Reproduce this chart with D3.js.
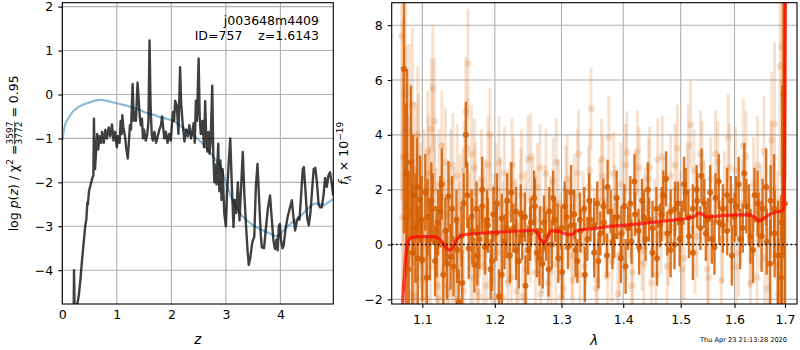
<!DOCTYPE html>
<html><head><meta charset="utf-8">
<script src="https://cdn.jsdelivr.net/npm/d3@7"></script>
<style>body{margin:0;background:#fff}svg text{font-family:"DejaVu Sans",sans-serif}</style>
</head><body><svg id="c" width="800" height="350"></svg>
<script>
// ---------- DATA ----------
const zTicks = [0, 1, 2, 3, 4];
const logpTicks = [-4, -3, -2, -1, 0, 1, 2];
const lamTicks = [1.1, 1.2, 1.3, 1.4, 1.5, 1.6, 1.7];
const fluxTicks = [-2, 0, 2, 4, 6, 8];

// log p(z) (dark curve) [z, log p]
const pzCurve = [
[0.210,-4.8],[0.215,-4.0],[0.225,-4.8],[0.27,-4.8],[0.30,-4.6],[0.33,-4.25],[0.36,-3.8],[0.39,-3.4],[0.42,-3.0],[0.44,-2.85],
[0.46,-2.45],[0.47,-2.5],[0.49,-2.2],[0.52,-2.05],[0.55,-1.9],[0.57,-1.85],[0.58,-0.55],[0.60,-1.7],[0.62,-1.3],[0.64,-0.9],
[0.66,-1.25],[0.68,-0.95],[0.71,-1.1],[0.73,-0.85],[0.76,-1.1],[0.79,-0.8],[0.82,-1.0],[0.85,-0.75],[0.88,-0.95],[0.91,-0.68],
[0.94,-1.05],[0.97,-0.85],[1.00,-1.2],[1.02,-0.95],[1.05,-1.1],[1.07,-0.6],[1.09,-0.9],[1.10,-0.47],[1.12,-0.75],[1.15,-0.95],
[1.17,-1.2],[1.20,-1.46],[1.22,-1.1],[1.24,-0.7],[1.26,-0.8],[1.29,0.24],[1.31,-0.6],[1.33,-0.4],[1.35,-0.6],[1.38,0.27],
[1.40,-0.1],[1.42,-0.5],[1.44,-0.7],[1.46,-0.55],[1.48,-1.0],[1.50,-0.8],[1.53,-1.05],[1.56,-0.9],[1.58,-0.6],[1.60,1.23],
[1.62,-0.3],[1.64,-0.9],[1.66,-1.05],[1.69,-0.85],[1.72,-1.1],[1.75,-0.95],[1.78,-0.8],[1.81,-0.7],[1.83,-0.5],[1.85,-0.75],
[1.87,-1.0],[1.90,-0.85],[1.93,-1.1],[1.96,-0.9],[1.99,-1.05],[2.01,-0.7],[2.03,-0.4],[2.05,-0.6],[2.07,-0.14],[2.10,-0.25],
[2.13,-0.9],[2.16,0.62],[2.18,-0.2],[2.21,-0.7],[2.24,-1.07],[2.27,-0.8],[2.30,-0.95],[2.33,-0.7],[2.36,-1.0],[2.39,-0.8],
[2.41,-0.65],[2.43,-1.1],[2.45,-0.14],[2.47,-0.6],[2.50,0.82],[2.52,-0.5],[2.54,-0.9],[2.57,-0.6],[2.60,-1.2],[2.62,-0.15],
[2.64,-1.0],[2.66,-1.3],[2.68,-0.85],[2.70,-1.35],[2.72,-1.1],[2.75,0.2],[2.77,-1.4],[2.79,-2.0],[2.81,-1.6],[2.83,-2.05],
[2.86,-1.12],[2.88,-2.2],[2.90,-1.5],[2.92,-2.4],[2.94,-1.7],[2.97,-2.7],[3.00,-3.0],[3.02,-2.3],[3.05,-1.6],[3.08,-1.0],
[3.11,-2.1],[3.14,-3.02],[3.16,-2.4],[3.19,-2.7],[3.22,-2.0],[3.25,-2.87],[3.28,-2.1],[3.31,-1.31],[3.34,-2.3],[3.37,-3.0],
[3.40,-3.6],[3.42,-3.88],[3.45,-3.7],[3.48,-3.4],[3.50,-3.3],[3.52,-3.25],[3.55,-2.1],[3.58,-1.58],[3.61,-2.4],[3.64,-3.2],
[3.66,-3.48],[3.70,-3.5],[3.73,-3.1],[3.77,-2.6],[3.81,-2.3],[3.84,-2.8],[3.87,-3.3],[3.90,-3.52],[3.93,-3.3],[3.95,-3.55],
[3.97,-3.0],[3.99,-2.95],[4.01,-3.3],[4.04,-3.5],[4.06,-3.44],[4.09,-3.1],[4.13,-2.8],[4.17,-2.6],[4.21,-2.41],[4.24,-2.8],
[4.27,-3.1],[4.30,-2.9],[4.33,-2.8],[4.35,-2.85],[4.38,-2.3],[4.41,-1.7],[4.43,-1.65],[4.46,-2.2],[4.49,-2.8],[4.52,-2.98],
[4.55,-2.7],[4.58,-2.2],[4.61,-1.7],[4.64,-1.67],[4.67,-2.0],[4.70,-2.5],[4.73,-2.57],[4.76,-2.57],[4.79,-2.3],[4.82,-1.9],
[4.85,-2.1],[4.88,-1.85],[4.91,-1.77],[4.94,-2.0],[4.96,-2.22],[4.97,-2.3]
];

// smooth prior curve [z, log p]
const priorCurve = [
[0,-1.05],[0.03,-0.8],[0.06,-0.65],[0.12,-0.52],[0.2,-0.38],[0.3,-0.28],[0.4,-0.22],[0.5,-0.18],[0.6,-0.14],[0.7,-0.12],
[0.8,-0.14],[0.9,-0.17],[1.0,-0.2],[1.1,-0.23],[1.2,-0.26],[1.3,-0.3],[1.4,-0.34],[1.5,-0.4],[1.6,-0.44],[1.7,-0.47],
[1.8,-0.52],[1.9,-0.55],[2.0,-0.58],[2.1,-0.65],[2.2,-0.75],[2.3,-0.85],[2.4,-0.93],[2.5,-1.03],[2.6,-1.15],[2.7,-1.3],
[2.8,-1.47],[2.9,-1.62],[3.0,-2.0],[3.1,-2.35],[3.2,-2.6],[3.3,-2.77],[3.4,-2.88],[3.5,-2.98],[3.6,-3.05],[3.7,-3.1],
[3.8,-3.16],[3.9,-3.22],[3.95,-3.23],[4.0,-3.17],[4.1,-3.04],[4.2,-2.93],[4.3,-2.84],[4.4,-2.73],[4.5,-2.6],[4.6,-2.5],
[4.65,-2.48],[4.75,-2.5],[4.8,-2.52],[4.85,-2.48],[4.97,-2.38]
];

// best-fit model [lambda, flux]
const modelCurve = [
[1.074,-2.3],[1.078,-0.5],[1.082,0.15],[1.086,0.25],[1.095,0.28],[1.105,0.29],[1.115,0.29],[1.122,0.22],[1.128,0.05],[1.134,-0.18],
[1.138,-0.21],[1.142,-0.05],[1.147,0.2],[1.153,0.33],[1.16,0.37],[1.18,0.41],[1.20,0.44],[1.22,0.47],[1.24,0.5],[1.255,0.52],
[1.262,0.46],[1.268,0.18],[1.272,0.08],[1.277,0.15],[1.283,0.5],[1.29,0.5],[1.30,0.44],[1.31,0.37],[1.316,0.36],[1.322,0.48],
[1.33,0.53],[1.35,0.58],[1.37,0.64],[1.40,0.7],[1.43,0.76],[1.46,0.83],[1.49,0.9],[1.51,0.95],[1.525,1.02],[1.534,1.15],
[1.54,1.1],[1.548,1.0],[1.56,1.02],[1.58,1.06],[1.60,1.08],[1.627,1.08],[1.64,0.98],[1.647,0.86],[1.655,0.92],[1.665,1.05],
[1.68,1.18],[1.693,1.22],[1.697,1.3],[1.699,3.0],[1.701,9.5]
];

// spectrum, high-weight points, first set [lambda, flux, err]
const specDarkA = [
[1.076,6.4,6.0],[1.079,0.95,4.2],[1.082,-0.9,3.5],[1.085,3.0,2.8],[1.088,1.8,2.2],[1.091,0.6,2.0],[1.094,-0.5,1.9],[1.097,1.65,1.6],
[1.100,-0.55,1.5],[1.104,1.9,1.4],[1.107,1.0,1.4],[1.110,0.2,1.5],[1.114,1.3,1.3],[1.117,-0.6,1.3],[1.121,0.8,1.2],[1.124,1.2,1.3],
[1.128,-1.1,1.2],[1.131,0.5,1.2],[1.135,1.75,1.3],[1.138,-0.45,1.2],[1.142,-0.8,1.1],[1.146,0.9,1.1],[1.149,-2.1,1.2],[1.153,0.3,1.1],
[1.156,1.5,1.1],[1.159,4.0,1.2],[1.163,-0.15,1.1],[1.167,1.0,1.0],[1.171,-0.75,1.0],[1.174,1.3,1.0],[1.178,0.2,1.1],[1.182,1.4,1.0],
[1.186,-0.1,1.0],[1.190,0.7,1.0],[1.194,-0.9,1.1],[1.198,1.1,1.0],[1.202,0.4,1.0],[1.206,-1.9,1.0],[1.210,0.95,0.9],[1.214,0.1,1.0],
[1.218,1.6,1.0],[1.222,-0.4,1.0],[1.227,0.6,0.9],[1.231,1.2,0.9],[1.235,-0.6,1.0],[1.240,0.35,0.9],[1.244,1.0,0.9],[1.249,-0.2,0.9],
[1.253,0.8,0.9],[1.258,1.7,1.0],[1.262,-0.3,0.9],[1.267,0.5,0.9],[1.271,-0.7,0.9],[1.276,0.3,0.9],[1.281,1.2,0.9],[1.285,0.0,0.9],
[1.290,0.9,0.8],[1.295,-0.5,0.9],[1.300,0.6,0.8],[1.305,1.4,0.9],[1.310,-0.1,0.8],[1.315,0.7,0.8],[1.320,1.1,0.9],[1.325,-0.6,0.8],
[1.330,0.5,0.8],[1.336,1.3,0.8],[1.341,0.2,0.8],[1.346,0.9,0.8],[1.352,-0.3,0.9],[1.357,1.5,0.8],[1.362,0.4,0.8],[1.368,0.8,0.8],
[1.373,-0.4,0.8],[1.379,1.2,0.8],[1.385,0.3,0.8],[1.390,1.0,0.8],[1.396,-0.5,0.9],[1.402,1.4,0.8],[1.408,0.6,0.8],[1.414,0.1,0.8],
[1.420,1.1,0.8],[1.426,0.5,0.8],[1.432,1.6,0.8],[1.438,0.2,0.8],[1.444,0.9,0.8],[1.450,-0.3,0.9],[1.457,1.3,0.8],[1.463,0.7,0.8],
[1.469,1.8,0.9],[1.476,0.4,0.8],[1.482,1.2,0.8],[1.489,0.0,0.9],[1.495,1.5,0.8],[1.502,0.8,0.8],[1.509,1.9,0.9],[1.515,0.3,0.8],
[1.522,1.3,0.9],[1.529,2.0,0.9],[1.536,0.6,0.8],[1.543,1.5,0.9],[1.550,0.9,0.8],[1.557,0.2,0.9],[1.564,1.7,0.9],[1.571,0.8,0.8],
[1.578,1.3,0.9],[1.586,0.5,0.9],[1.593,1.6,0.9],[1.600,1.0,0.9],[1.608,2.2,1.0],[1.616,0.6,0.9],[1.623,1.4,1.0],[1.631,0.3,1.0],
[1.639,1.8,1.0],[1.647,0.9,1.0],[1.655,1.3,1.1],[1.663,0.1,1.2],[1.671,1.6,1.3],[1.679,0.4,1.6],[1.686,-0.4,2.0],[1.692,-1.2,3.0],
[1.697,5.5,6.0],[1.700,1.5,8.0]
];

// spectrum, high-weight points, second set
const specDarkB = [
[1.080,2.6,3.8],[1.087,-0.3,2.5],[1.093,2.1,1.8],[1.099,0.9,1.6],[1.106,-1.2,1.5],[1.112,1.6,1.4],[1.119,0.1,1.3],[1.126,2.2,1.3],
[1.133,-0.7,1.3],[1.140,1.3,1.2],[1.147,-0.2,1.2],[1.154,-1.4,1.2],[1.161,1.8,1.2],[1.168,0.5,1.2],[1.175,-0.4,1.1],[1.182,2.0,1.2],
[1.189,0.9,1.1],[1.196,-0.6,1.1],[1.203,1.5,1.1],[1.210,-1.1,1.1],[1.217,0.6,1.1],[1.224,1.9,1.1],[1.231,-0.2,1.1],[1.238,1.1,1.1],
[1.245,-1.5,1.1],[1.252,0.4,1.0],[1.259,1.4,1.0],[1.266,-0.5,1.0],[1.273,0.8,1.0],[1.280,-0.9,1.0],[1.287,1.7,1.0],[1.294,0.5,1.0],
[1.301,-1.0,1.0],[1.308,1.0,1.0],[1.315,1.9,1.0],[1.322,-0.2,1.0],[1.329,0.9,1.0],[1.337,-1.1,1.0],[1.344,1.6,1.0],[1.352,0.7,1.0],
[1.359,-0.6,1.0],[1.367,1.4,1.0],[1.374,2.1,1.0],[1.382,0.1,1.0],[1.389,1.7,1.0],[1.397,0.4,1.0],[1.404,-0.8,1.0],[1.412,1.5,1.0],
[1.419,2.3,1.0],[1.427,-0.1,1.0],[1.435,1.0,1.0],[1.442,2.0,1.0],[1.450,0.6,1.0],[1.458,-0.5,1.0],[1.466,1.1,1.0],[1.474,2.4,1.0],
[1.482,-0.2,1.0],[1.490,1.3,1.0],[1.498,0.2,1.0],[1.506,2.2,1.0],[1.514,1.0,1.0],[1.522,-0.3,1.0],[1.530,1.6,1.0],[1.538,2.5,1.0],
[1.546,0.4,1.0],[1.554,1.9,1.0],[1.562,-0.1,1.0],[1.570,2.3,1.0],[1.578,0.7,1.0],[1.586,1.8,1.0],[1.595,-0.4,1.1],[1.603,1.4,1.1],
[1.611,0.2,1.1],[1.619,2.6,1.1],[1.628,1.1,1.1],[1.636,-0.2,1.2],[1.645,1.5,1.2],[1.653,0.3,1.3],[1.662,2.1,1.4],[1.670,-0.7,1.6],
[1.678,1.3,2.0],[1.686,-2.3,2.5],[1.694,0.8,5.0]
];

// spectrum, low-weight points, first set
const specLightA = [
[1.073,7.6,6.0],[1.075,3.2,5.0],[1.077,-1.5,4.5],[1.079,3.25,4.0],[1.081,1.2,3.5],[1.083,4.1,3.2],[1.085,-1.8,3.0],[1.087,5.1,2.8],
[1.089,0.3,2.6],[1.091,2.7,2.5],[1.093,-1.2,2.4],[1.095,3.1,2.4],[1.097,1.4,2.3],[1.099,-0.6,2.3],[1.102,2.0,2.2],[1.104,0.2,2.2],
[1.106,-2.0,2.2],[1.108,2.6,2.1],[1.110,1.5,2.1],[1.112,4.2,2.6],[1.114,5.7,2.3],[1.116,4.5,2.3],[1.118,0.8,2.0],[1.120,-1.5,2.0],
[1.122,2.2,2.0],[1.125,0.0,2.0],[1.127,1.7,2.0],[1.129,-0.9,2.0],[1.131,3.0,2.0],[1.134,-1.6,1.9],[1.136,1.1,1.9],[1.138,2.3,1.9],
[1.140,-0.4,1.9],[1.143,0.9,1.9],[1.145,-2.0,1.9],[1.147,2.5,1.9],[1.150,0.4,1.9],[1.152,-1.1,1.9],[1.155,1.6,1.9],[1.157,2.7,1.8],
[1.159,4.85,2.0],[1.162,6.6,2.0],[1.164,0.8,1.8],[1.167,3.3,1.8],[1.169,-0.5,1.8],[1.172,1.9,1.8],[1.175,-1.7,1.8],[1.178,0.6,1.8],
[1.181,2.4,1.8],[1.184,-0.8,1.8],[1.187,1.3,1.8],[1.190,2.9,1.8],[1.193,4.0,1.7],[1.196,-1.3,1.8],[1.199,0.9,1.7],[1.202,2.0,1.7],
[1.205,-0.3,1.7],[1.208,1.5,1.7],[1.211,-1.9,1.7],[1.214,2.6,1.7],[1.218,0.3,1.7],[1.221,1.1,1.7],[1.224,-1.2,1.7],[1.227,2.2,1.7],
[1.231,0.7,1.7],[1.234,-0.6,1.7],[1.238,1.8,1.7],[1.241,-1.9,1.7],[1.245,1.0,1.7],[1.249,3.1,1.6],[1.252,0.2,1.6],[1.256,1.6,1.6],
[1.260,-1.0,1.6],[1.263,2.1,1.6],[1.267,2.8,1.6],[1.271,-0.2,1.6],[1.275,1.3,1.6],[1.279,-1.4,1.6],[1.283,0.9,1.6],[1.287,2.3,1.6],
[1.291,-0.7,1.6],[1.295,1.5,1.6],[1.299,0.3,1.6],[1.303,-1.6,1.6],[1.307,2.0,1.6],[1.312,0.8,1.6],[1.316,-0.4,1.6],[1.320,1.7,1.6],
[1.325,2.6,1.6],[1.329,-1.1,1.6],[1.334,1.2,1.5],[1.338,0.0,1.5],[1.343,2.1,1.5],[1.347,4.95,1.5],[1.352,0.6,1.5],[1.357,-1.3,1.5],
[1.361,1.6,1.5],[1.366,2.5,1.5],[1.371,0.2,1.5],[1.376,3.9,1.5],[1.381,-0.6,1.5],[1.386,1.4,1.5],[1.391,-1.8,1.5],[1.396,2.2,1.5],
[1.401,0.5,1.5],[1.406,3.36,1.5],[1.411,1.0,1.5],[1.416,-1.0,1.5],[1.421,1.9,1.5],[1.427,2.8,1.5],[1.432,-0.2,1.5],[1.437,1.3,1.5],
[1.443,2.4,1.5],[1.448,-1.4,1.5],[1.454,0.9,1.5],[1.459,3.1,1.5],[1.465,0.4,1.5],[1.471,1.7,1.5],[1.476,-0.8,1.5],[1.482,2.5,1.5],
[1.488,0.6,1.5],[1.494,3.5,1.6],[1.500,1.2,1.5],[1.506,-0.5,1.5],[1.512,2.0,1.5],[1.518,4.37,1.6],[1.524,2.7,1.5],[1.530,0.3,1.5],
[1.536,3.3,1.6],[1.543,1.6,1.5],[1.549,-0.9,1.5],[1.555,2.4,1.5],[1.562,0.8,1.5],[1.568,3.0,1.5],[1.575,-1.3,1.6],[1.581,1.9,1.5],
[1.588,3.9,1.6],[1.595,0.6,1.6],[1.602,2.7,1.6],[1.608,-0.3,1.6],[1.615,1.5,1.6],[1.622,3.2,1.7],[1.630,0.1,1.7],[1.637,2.2,1.7],
[1.644,-1.2,1.8],[1.651,1.0,1.9],[1.658,3.4,2.0],[1.665,-1.6,2.2],[1.672,2.0,2.5],[1.679,4.4,3.0],[1.685,-0.8,3.5],[1.690,6.5,4.0],
[1.694,7.2,5.0],[1.698,2.5,6.0],[1.701,9.5,7.0]
];

// spectrum, low-weight points, second set
const specLightB = [
[1.074,1.0,5.5],[1.078,5.5,4.5],[1.082,-0.5,3.6],[1.086,2.2,3.0],[1.090,-1.9,2.6],[1.094,4.0,2.5],[1.098,0.7,2.3],[1.103,-1.3,2.2],
[1.107,3.4,2.2],[1.111,-0.8,2.1],[1.116,2.0,2.0],[1.121,-2.0,2.0],[1.126,3.6,2.0],[1.130,0.4,2.0],[1.135,-1.8,1.9],[1.141,2.9,1.9],
[1.146,-0.9,1.9],[1.151,1.4,1.9],[1.156,-1.7,1.9],[1.161,3.5,1.8],[1.166,-1.2,1.8],[1.171,2.8,1.8],[1.177,-1.9,1.8],[1.183,1.0,1.8],
[1.188,-1.5,1.8],[1.194,2.1,1.8],[1.200,-1.9,1.7],[1.206,3.0,1.7],[1.212,0.6,1.7],[1.219,-1.4,1.7],[1.225,2.9,1.7],[1.232,-1.7,1.7],
[1.239,2.5,1.7],[1.246,-0.9,1.7],[1.253,3.2,1.6],[1.260,0.9,1.6],[1.268,-1.8,1.6],[1.276,2.6,1.6],[1.284,-1.0,1.6],[1.292,3.0,1.6],
[1.300,-1.9,1.6],[1.309,2.4,1.6],[1.318,-1.3,1.6],[1.327,3.3,1.6],[1.336,-0.8,1.5],[1.345,2.7,1.5],[1.355,-1.6,1.5],[1.364,3.1,1.5],
[1.374,-1.1,1.5],[1.384,2.6,1.5],[1.394,-0.4,1.5],[1.404,2.9,1.5],[1.414,-1.5,1.5],[1.424,3.4,1.5],[1.435,-0.7,1.5],[1.445,2.8,1.5],
[1.456,-1.1,1.5],[1.467,3.2,1.5],[1.478,0.0,1.5],[1.490,2.9,1.5],[1.502,-0.9,1.5],[1.514,3.6,1.5],[1.526,-0.3,1.5],[1.539,2.9,1.6],
[1.551,-1.2,1.6],[1.564,3.3,1.6],[1.577,0.2,1.6],[1.590,2.8,1.6],[1.603,-0.8,1.6],[1.617,3.6,1.7],[1.631,-1.4,1.7],[1.645,2.9,1.8],
[1.659,-0.5,2.0],[1.673,3.8,2.5],[1.686,-1.8,3.5],[1.696,5.9,6.0]
];

const titleLines = ["j003648m4409", "ID=757    z=1.6143"];
const stamp = "Thu Apr 23 21:13:28 2020";

// ---------- DRAW ----------
const svg = d3.select("#c");
const FS = 12.5;
const gridCol = "#b0b0b0";
const specCol = "#d55e00";
const fmtInt = d3.format("d");
const fmt1 = d3.format(".1f");

const L = {x0: 62.3, x1: 333.3, y0: 2.7, y1: 304};
const R = {x0: 391.7, x1: 797, y0: 2.7, y1: 304};

const xz = d3.scaleLinear().domain([0, 4.97]).range([L.x0, L.x1]);
const yp = d3.scaleLinear().domain([-4.77, 2.09]).range([L.y1, L.y0]);
const xl = d3.scaleLog().domain([1.0603, 1.7247]).range([R.x0, R.x1]);
const yf = d3.scaleLinear().domain([-2.17, 8.82]).range([R.y1, R.y0]);

function clip(id, b) {
  svg.append("clipPath").attr("id", id).append("rect")
    .attr("x", b.x0).attr("y", b.y0).attr("width", b.x1 - b.x0).attr("height", b.y1 - b.y0);
}
clip("cl", L); clip("cr", R);

function panel(b, xs, ys, xt, yt, xf, yf_, xTick, xLabBase) {
  const g = svg.append("g");
  g.selectAll(".gx").data(xt).join("line")
    .attr("x1", d => xs(d)).attr("x2", d => xs(d)).attr("y1", b.y0).attr("y2", b.y1)
    .attr("stroke", gridCol).attr("stroke-width", 1.1);
  g.selectAll(".gy").data(yt).join("line")
    .attr("y1", d => ys(d)).attr("y2", d => ys(d)).attr("x1", b.x0).attr("x2", b.x1)
    .attr("stroke", gridCol).attr("stroke-width", 1.1);
  const ax = d3.axisBottom(xs).tickValues(xt).tickFormat(xf).tickSize(xTick).tickSizeOuter(0).tickPadding(0);
  const axg = svg.append("g").attr("transform", `translate(0,${b.y1})`).call(ax);
  axg.select(".domain").remove();
  axg.selectAll("line").attr("stroke", "#000").attr("stroke-width", 1.1);
  axg.selectAll("text").attr("font-size", FS).attr("fill", "#000").attr("font-family", '"DejaVu Sans"')
    .attr("y", xLabBase - b.y1).attr("dy", null);
  const ay = d3.axisLeft(ys).tickValues(yt).tickFormat(yf_).tickSize(4).tickSizeOuter(0).tickPadding(5);
  const ayg = svg.append("g").attr("transform", `translate(${b.x0},0)`).call(ay);
  ayg.select(".domain").remove();
  ayg.selectAll("line").attr("stroke", "#000").attr("stroke-width", 1.1);
  ayg.selectAll("text").attr("font-size", FS).attr("fill", "#000").attr("font-family", '"DejaVu Sans"');
  return g;
}

// LEFT PANEL
panel(L, xz, yp, zTicks, logpTicks, fmtInt, fmtInt, 0, 318.5);
const lineZ = d3.line().x(d => xz(d[0])).y(d => yp(d[1]));
const gl = svg.append("g").attr("clip-path", "url(#cl)");
gl.append("path").datum(priorCurve).attr("d", lineZ).attr("fill", "none")
  .attr("stroke", "#1f77b4").attr("stroke-opacity", 0.5).attr("stroke-width", 2.2);
gl.append("path").datum(pzCurve).attr("d", lineZ).attr("fill", "none")
  .attr("stroke", "#000").attr("stroke-opacity", 0.75).attr("stroke-width", 2.4)
  .attr("stroke-linejoin", "round");
svg.append("rect").attr("x", L.x0).attr("y", L.y0).attr("width", L.x1 - L.x0).attr("height", L.y1 - L.y0)
  .attr("fill", "none").attr("stroke", "#000").attr("stroke-width", 1.1);

svg.selectAll(".ttl").data(titleLines).join("text")
  .attr("x", 319).attr("y", (d, i) => 25 + i * 14.8).attr("text-anchor", "end")
  .attr("font-size", FS).attr("xml:space", "preserve").style("white-space", "pre").text(d => d);

svg.append("text").attr("x", (L.x0 + L.x1) / 2).attr("y", 344).attr("text-anchor", "middle")
  .attr("font-size", FS + 1).attr("font-style", "italic").text("z");

{
  const outer = svg.append("g").attr("transform", `translate(18,${(L.y0 + L.y1) / 2}) rotate(-90)`);
  const g = outer.append("g");
  const t1 = g.append("text").attr("font-size", FS);
  t1.append("tspan").text("log ");
  t1.append("tspan").attr("font-style", "italic").text("p");
  t1.append("tspan").text("(");
  t1.append("tspan").attr("font-style", "italic").text("z");
  t1.append("tspan").text(") / χ");
  t1.append("tspan").attr("font-size", 9).attr("dy", -5).text("2");
  t1.append("tspan").attr("dy", 5).text(" = ");
  const w1 = t1.node().getComputedTextLength();
  const num = g.append("text").attr("font-size", 9).attr("x", w1).attr("y", -4.6).text("3597");
  const den = g.append("text").attr("font-size", 9).attr("x", w1).attr("y", 3.8).text("3772");
  const fw = Math.max(num.node().getComputedTextLength(), den.node().getComputedTextLength());
  g.append("line").attr("x1", w1).attr("x2", w1 + fw).attr("y1", -3.4).attr("y2", -3.4)
    .attr("stroke", "#000").attr("stroke-width", 0.7);
  const t2 = g.append("text").attr("font-size", FS).attr("x", w1 + fw).attr("xml:space", "preserve")
    .style("white-space", "pre").text(" = 0.95");
  const tot = w1 + fw + t2.node().getComputedTextLength();
  g.attr("transform", `translate(${-tot / 2},0)`);
}

// RIGHT PANEL
panel(R, xl, yf, lamTicks, fluxTicks, fmt1, fmtInt, 4, 324);
const gr = svg.append("g").attr("clip-path", "url(#cr)");
function errSet(data, op, lw, r) {
  const g = gr.append("g");
  g.selectAll("line").data(data).join("line")
    .attr("x1", d => xl(d[0])).attr("x2", d => xl(d[0]))
    .attr("y1", d => yf(d[1] - d[2])).attr("y2", d => yf(d[1] + d[2]))
    .attr("stroke", specCol).attr("stroke-opacity", op).attr("stroke-width", lw);
  g.selectAll("circle").data(data).join("circle")
    .attr("cx", d => xl(d[0])).attr("cy", d => yf(d[1])).attr("r", r)
    .attr("fill", specCol).attr("fill-opacity", op);
}
errSet(specLightA, 0.18, 3, 3.5);
errSet(specLightB, 0.18, 3, 3.5);
errSet(specDarkA, 0.85, 2.4, 3);
errSet(specDarkB, 0.85, 2.4, 3);
gr.append("path").datum(modelCurve)
  .attr("d", d3.line().x(d => xl(d[0])).y(d => yf(d[1])).curve(d3.curveMonotoneX))
  .attr("fill", "none").attr("stroke", "red").attr("stroke-opacity", 0.7).attr("stroke-width", 3.2)
  .attr("stroke-linejoin", "round");
gr.append("line").attr("x1", R.x0).attr("x2", R.x1).attr("y1", yf(0)).attr("y2", yf(0))
  .attr("stroke", "#000").attr("stroke-width", 1.7).attr("stroke-dasharray", "1.6,2.6");
svg.append("rect").attr("x", R.x0).attr("y", R.y0).attr("width", R.x1 - R.x0).attr("height", R.y1 - R.y0)
  .attr("fill", "none").attr("stroke", "#000").attr("stroke-width", 1.1);

svg.append("text").attr("x", (R.x0 + R.x1) / 2).attr("y", 345).attr("text-anchor", "middle")
  .attr("font-size", FS + 1).attr("font-style", "italic").text("λ");

{
  const outer = svg.append("g").attr("transform", `translate(348,${(R.y0 + R.y1) / 2}) rotate(-90)`);
  const g = outer.append("g");
  const t = g.append("text").attr("font-size", FS);
  t.append("tspan").attr("font-style", "italic").text("f");
  t.append("tspan").attr("font-style", "italic").attr("font-size", 9).attr("dy", 3).text("λ");
  t.append("tspan").attr("dy", -3).text(" × 10");
  t.append("tspan").attr("font-size", 9).attr("dy", -5.5).text("−19");
  const w = t.node().getComputedTextLength();
  g.attr("transform", `translate(${-w / 2},0)`);
}

svg.append("text").attr("x", 787).attr("y", 342).attr("text-anchor", "end")
  .attr("font-size", 6.6).text(stamp);
</script></body></html>
